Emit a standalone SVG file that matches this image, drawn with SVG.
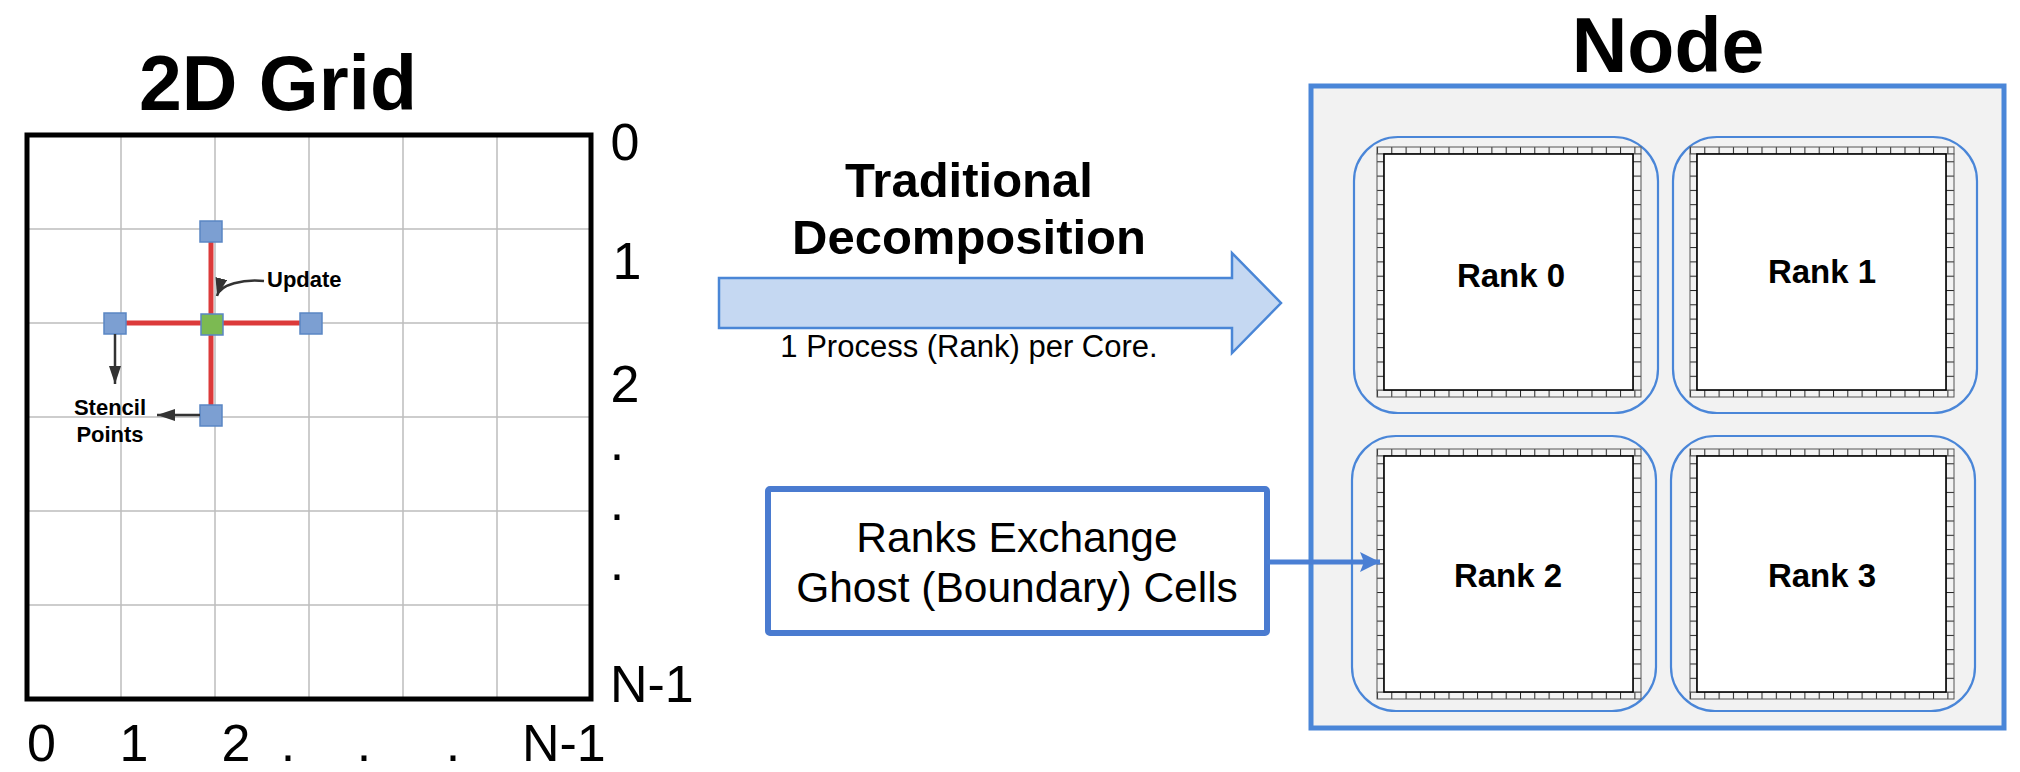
<svg xmlns="http://www.w3.org/2000/svg" xmlns:xlink="http://www.w3.org/1999/xlink" width="2020" height="772" viewBox="0 0 2020 772">
<style>
text { font-family: "Liberation Sans", Arial, sans-serif; fill: #000; }
.title { font-size: 77px; font-weight: bold; text-anchor: middle; }
.axis { font-size: 52px; }
.small { font-size: 22px; font-weight: bold; }
.mid { font-size: 49px; font-weight: bold; text-anchor: middle; }
.rank { font-size: 33px; font-weight: bold; text-anchor: middle; }
.grid { stroke: #bdbdbd; stroke-width: 1.5; }
.pt { fill: #7c9fd2; stroke: #5a86c4; stroke-width: 1.5; }
.ptc { fill: #7cba52; stroke: #5a86c4; stroke-width: 1.5; }
.red { stroke: #dc3a3a; stroke-width: 5; fill: none; }
.dark { stroke: #333; stroke-width: 2.5; fill: none; }
.rankbox { fill: #f2f2f2; stroke: #4a86d8; stroke-width: 2.2; }
.strip { stroke: #555; stroke-width: 1; }
</style>
<defs>
<marker id="ah" viewBox="0 0 18 12" refX="18" refY="6" markerWidth="18" markerHeight="12" markerUnits="userSpaceOnUse" orient="auto">
<path d="M0,0 L18,6 L0,12 Z" fill="#333"/>
</marker>
<marker id="ahb" viewBox="0 0 20 20" refX="20" refY="10" markerWidth="20" markerHeight="20" markerUnits="userSpaceOnUse" orient="auto">
<path d="M0,0 L20,10 L0,20 L4,10 Z" fill="#4a7fd4"/>
</marker>
<pattern id="hcells" x="0" y="0" width="14.3" height="7" patternUnits="userSpaceOnUse">
<rect width="14.3" height="7" fill="#f3f3f3"/>
<line x1="0.5" y1="0" x2="0.5" y2="7" stroke="#222" stroke-width="1"/>
</pattern>
<pattern id="vcells" x="0" y="0" width="7" height="14.3" patternUnits="userSpaceOnUse">
<rect width="7" height="14.3" fill="#f3f3f3"/>
<line x1="0" y1="0.5" x2="7" y2="0.5" stroke="#222" stroke-width="1"/>
</pattern>
<g id="cells">
<rect x="0" y="0" width="264" height="7" fill="url(#hcells)" class="strip"/>
<rect x="0" y="243" width="264" height="7" fill="url(#hcells)" class="strip"/>
<rect x="0" y="7" width="7" height="236" fill="url(#vcells)" class="strip"/>
<rect x="256" y="7" width="8" height="236" fill="url(#vcells)" class="strip"/>
<rect x="7" y="7" width="249" height="236" fill="#fff" stroke="#000" stroke-width="1.6"/>
</g>
</defs>
<rect width="2020" height="772" fill="#fff"/>

<g id="grid2d">
<text class="title" x="278" y="110">2D Grid</text>
<rect x="27" y="135" width="564" height="564" fill="#fff"/>
<g class="grid">
<line x1="121" y1="135" x2="121" y2="699"/>
<line x1="215" y1="135" x2="215" y2="699"/>
<line x1="309" y1="135" x2="309" y2="699"/>
<line x1="403" y1="135" x2="403" y2="699"/>
<line x1="497" y1="135" x2="497" y2="699"/>
<line x1="27" y1="229" x2="591" y2="229"/>
<line x1="27" y1="323" x2="591" y2="323"/>
<line x1="27" y1="417" x2="591" y2="417"/>
<line x1="27" y1="511" x2="591" y2="511"/>
<line x1="27" y1="605" x2="591" y2="605"/>
</g>
<rect x="27" y="135" width="564" height="564" fill="none" stroke="#000" stroke-width="5"/>
<g id="axis-rows" class="axis">
<text x="625" y="160" text-anchor="middle">0</text>
<text x="627" y="279" text-anchor="middle">1</text>
<text x="625" y="402" text-anchor="middle">2</text>
<text x="617" y="460" text-anchor="middle">.</text>
<text x="617" y="520" text-anchor="middle">.</text>
<text x="617" y="580" text-anchor="middle">.</text>
<text x="610" y="702">N-1</text>
</g>
<g id="axis-cols" class="axis">
<text x="41.5" y="761" text-anchor="middle">0</text>
<text x="134" y="761" text-anchor="middle">1</text>
<text x="236" y="761" text-anchor="middle">2</text>
<text x="288" y="761" text-anchor="middle">.</text>
<text x="364" y="761" text-anchor="middle">.</text>
<text x="453" y="761" text-anchor="middle">.</text>
<text x="522" y="761">N-1</text>
</g>
</g>

<g id="stencil">
<line class="red" x1="211" y1="232" x2="211" y2="415"/>
<line class="red" x1="115" y1="323" x2="311" y2="323"/>
<rect class="pt" x="200" y="221" width="22" height="21"/>
<rect class="pt" x="104" y="313" width="22" height="21"/>
<rect class="pt" x="300" y="313" width="22" height="21"/>
<rect class="pt" x="200" y="405" width="22" height="21"/>
<rect class="ptc" x="201" y="314" width="22" height="21"/>
</g>

<g id="labels-stencil">
<text class="small" x="267" y="287">Update</text>
<text class="small" x="110" y="415" text-anchor="middle">Stencil</text>
<text class="small" x="110" y="442" text-anchor="middle">Points</text>
</g>

<g id="decomp-arrow">
<polygon points="719,278 1232,278 1232,253 1281,303 1232,353 1232,328 719,328" fill="#c5d8f2" stroke="#4a86d6" stroke-width="2.5"/>
<text class="mid" x="969" y="197">Traditional</text>
<text class="mid" x="969" y="254">Decomposition</text>
<text x="969" y="357" font-size="31" text-anchor="middle">1 Process (Rank) per Core.</text>
</g>

<g id="ghost-box">
<rect x="768" y="489" width="499" height="144" rx="2" fill="#fff" stroke="#4a7bd0" stroke-width="6"/>
<text x="1017" y="552" font-size="42.5" text-anchor="middle">Ranks Exchange</text>
<text x="1017" y="602" font-size="42.5" text-anchor="middle">Ghost (Boundary) Cells</text>
</g>

<g id="node">
<text class="title" x="1668" y="72">Node</text>
<rect x="1311" y="86" width="693" height="642" fill="#f2f2f2" stroke="#4a86d8" stroke-width="5"/>
</g>

<g id="rank0">
<rect class="rankbox" x="1354" y="137" width="304" height="276" rx="44"/>
<use xlink:href="#cells" x="1377" y="147"/>
<text class="rank" x="1511" y="287">Rank 0</text>
</g>
<g id="rank1">
<rect class="rankbox" x="1673" y="137" width="304" height="276" rx="44"/>
<use xlink:href="#cells" x="1690" y="147"/>
<text class="rank" x="1822" y="283">Rank 1</text>
</g>
<g id="rank2">
<rect class="rankbox" x="1352" y="436" width="304" height="275" rx="44"/>
<use xlink:href="#cells" x="1377" y="449"/>
<text class="rank" x="1508" y="587">Rank 2</text>
</g>
<g id="rank3">
<rect class="rankbox" x="1671" y="436" width="304" height="275" rx="44"/>
<use xlink:href="#cells" x="1690" y="449"/>
<text class="rank" x="1822" y="587">Rank 3</text>
</g>

<g id="connectors">
<path class="dark" d="M264,281 C244,279 220,284 217,296" marker-end="url(#ah)"/>
<line class="dark" x1="115" y1="334" x2="115" y2="384" marker-end="url(#ah)"/>
<line class="dark" x1="200" y1="415" x2="157" y2="415" marker-end="url(#ah)"/>
<line x1="1267" y1="562" x2="1380" y2="562" stroke="#4a7fd4" stroke-width="5" marker-end="url(#ahb)"/>
</g>
</svg>
